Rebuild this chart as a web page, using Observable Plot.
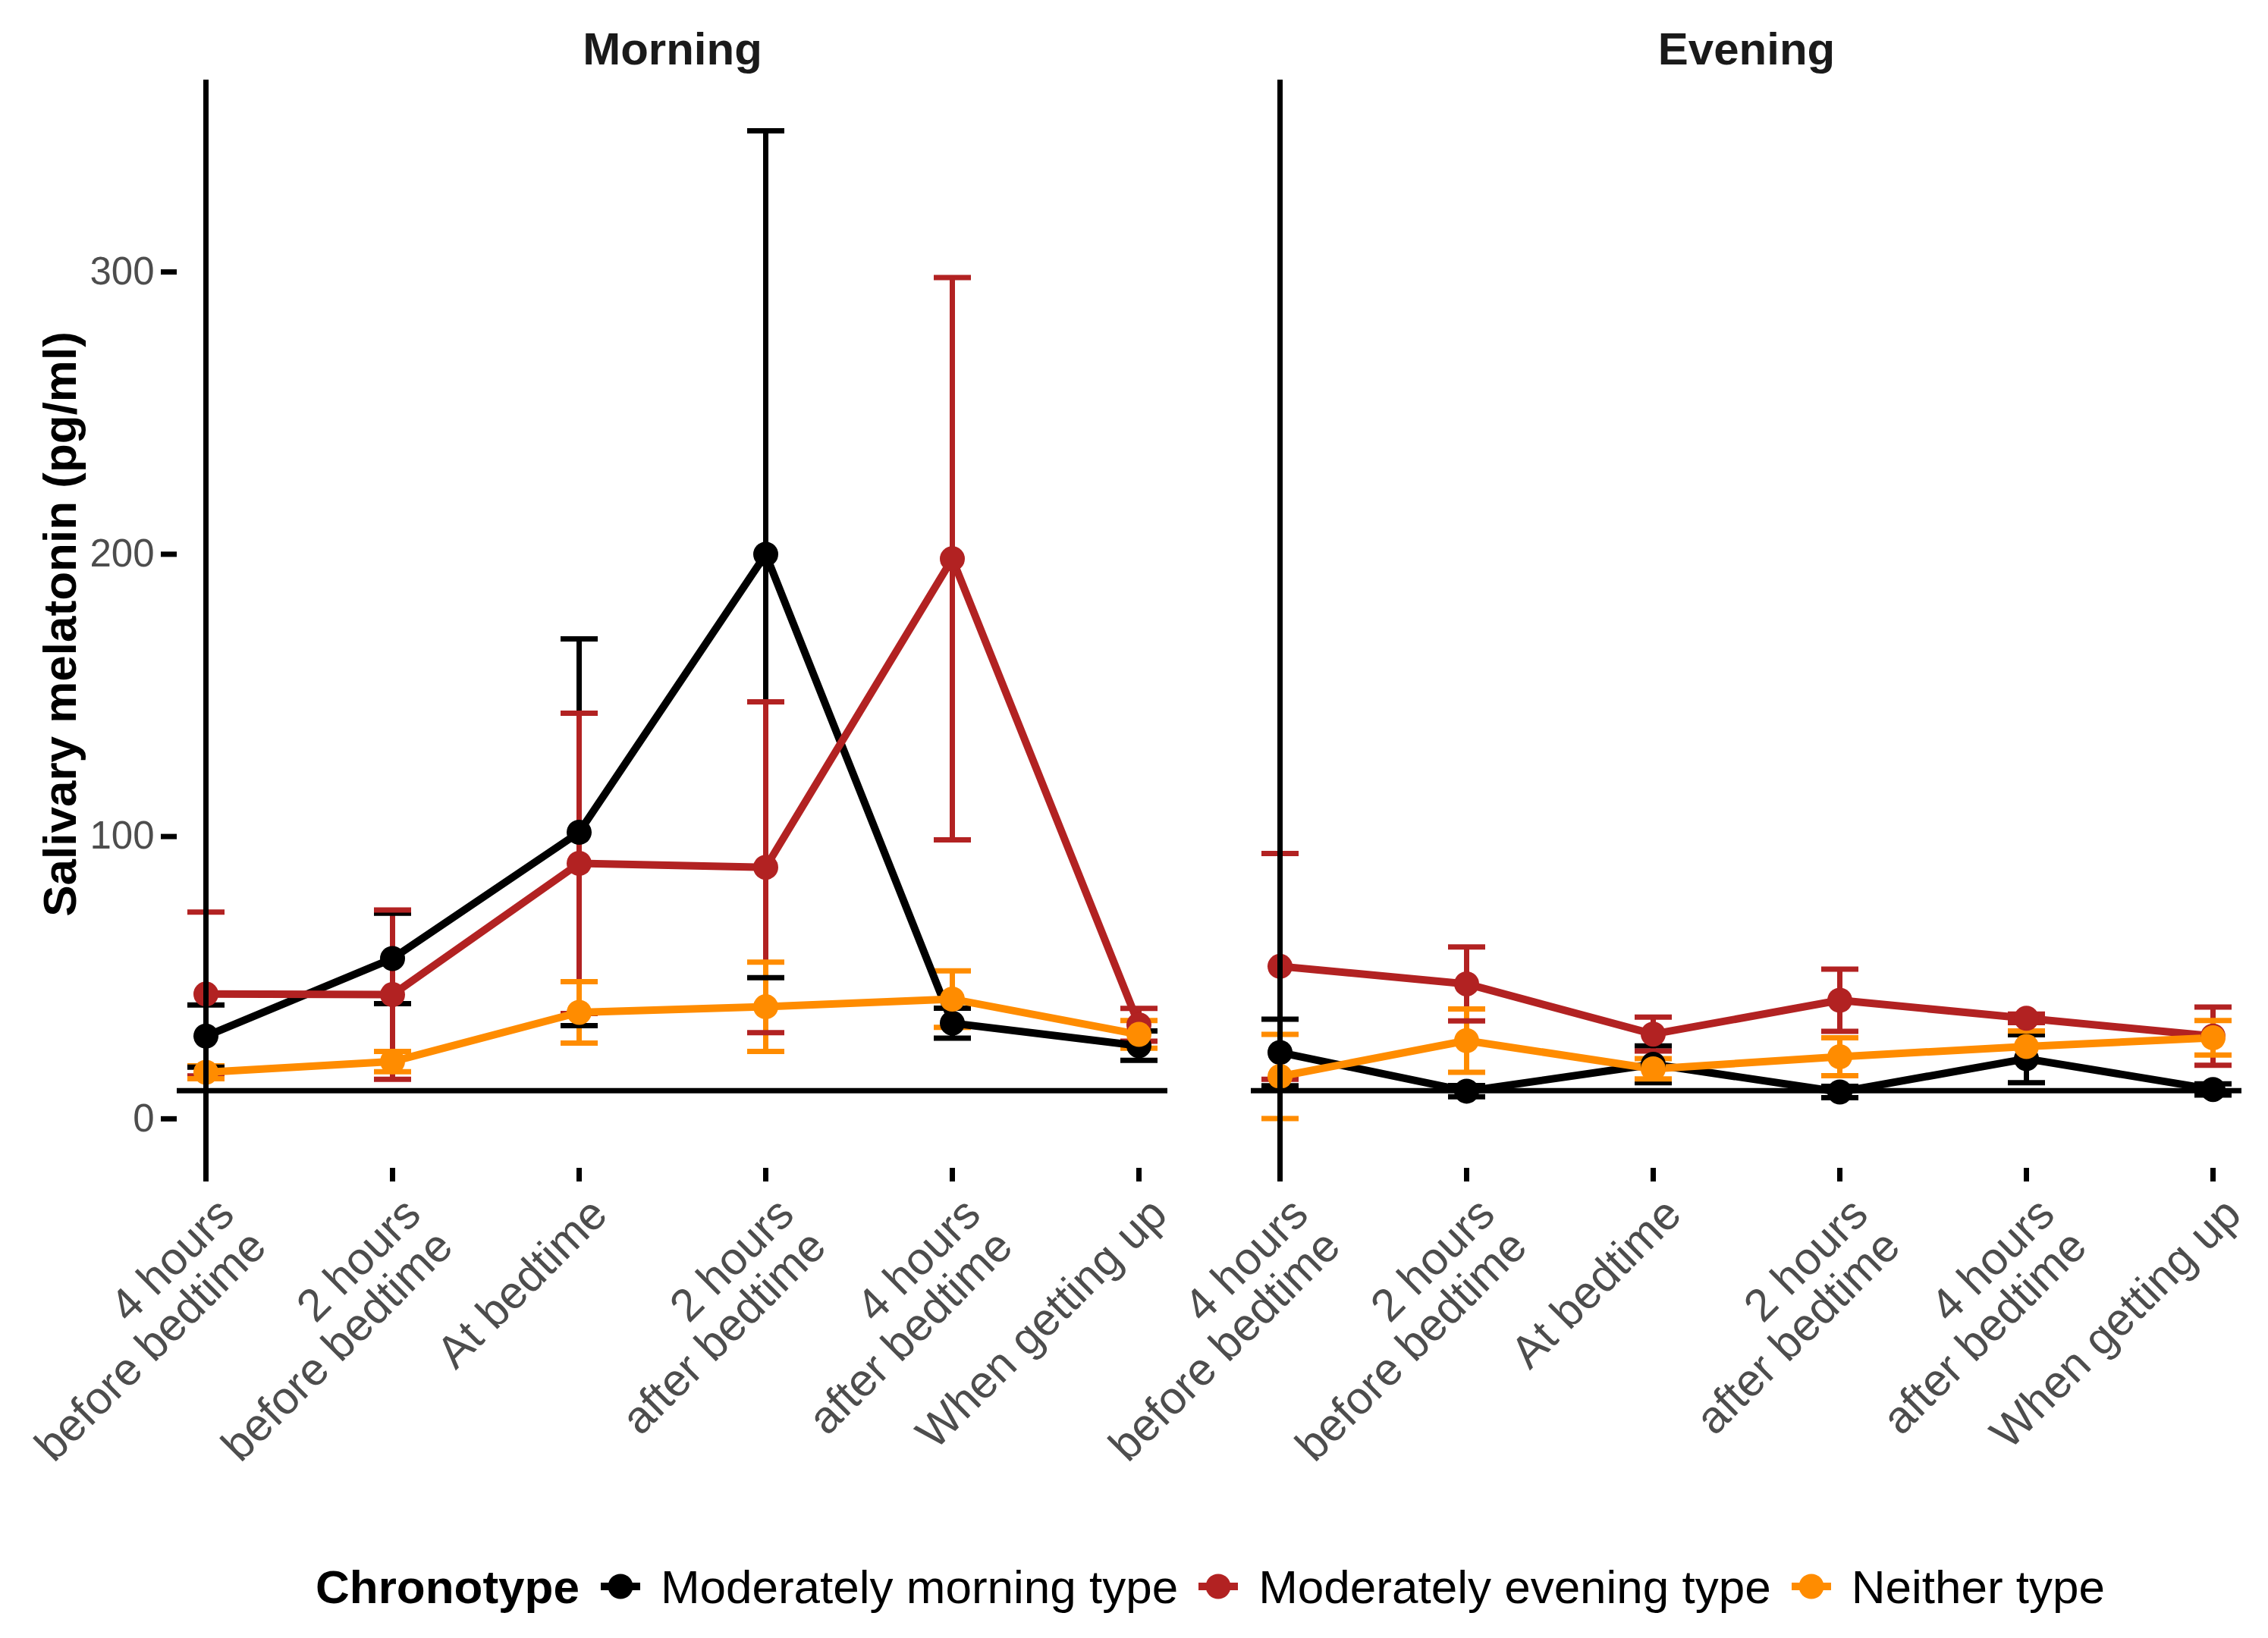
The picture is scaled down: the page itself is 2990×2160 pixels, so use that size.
<!DOCTYPE html>
<html>
<head>
<meta charset="utf-8">
<script src="https://cdn.jsdelivr.net/npm/d3@7"></script>
<script src="https://cdn.jsdelivr.net/npm/@observablehq/plot@0.6"></script>
<style>
  html, body { margin: 0; padding: 0; background: #fff; }
  body { width: 2990px; height: 2160px; position: relative; overflow: hidden;
         font-family: "Liberation Sans", Arial, sans-serif; }
  #chart { position: absolute; left: 0; top: 0; }
  #legend { position: absolute; left: 416px; top: 2058px; height: 68px;
            display: flex; align-items: center; font-size: 62px; color: #000; white-space: nowrap; }
  #legend .title { font-weight: bold; margin-right: 28px; }
  #legend svg { margin-right: 27px; flex: none; }
  #legend .lab { margin-right: 27px; }
</style>
</head>
<body>
<div id="chart"></div>
<div id="legend"></div>
<script>
// ---------- data ----------
const timepoints = [
  "4 hours\nbefore bedtime",
  "2 hours\nbefore bedtime",
  "At bedtime",
  "2 hours\nafter bedtime",
  "4 hours\nafter bedtime",
  "When getting up"
];
const sessions = ["Morning", "Evening"];
const chronotypes = ["Moderately morning type", "Moderately evening type", "Neither type"];
const chronotypeColors = ["#000000", "#B22222", "#FF8C00"];
const yTicks = [0, 100, 200, 300];
const referenceLevel = 10;
const yTitle = "Salivary melatonin (pg/ml)";
const legendTitle = "Chronotype";

// Morning session: mean and error (±)
const morningMorningType    = [29.3, 56.8, 101.5, 200.0, 33.9, 25.9];
const morningMorningTypeErr = [11.0, 16.0, 68.5, 150.0, 5.3, 5.2];
const morningEveningType    = [44.2, 44.0, 90.5, 89.1, 198.4, 33.3];
const morningEveningTypeErr = [29.0, 30.0, 53.2, 58.6, 99.6, 5.8];
const morningNeitherType    = [16.5, 20.3, 37.7, 39.7, 42.4, 29.9];
const morningNeitherTypeErr = [2.3, 3.6, 10.9, 15.8, 10.0, 4.9];

// Evening session: mean and error (±)
const eveningMorningType    = [23.5, 9.8, 19.3, 9.5, 21.3, 10.4];
const eveningMorningTypeErr = [11.8, 2.0, 6.5, 2.0, 8.5, 2.0];
const eveningEveningType    = [54.0, 47.8, 30.0, 42.0, 35.6, 29.3];
const eveningEveningTypeErr = [40.0, 13.1, 6.0, 11.0, 1.5, 10.3];
const eveningNeitherType    = [15.0, 27.7, 17.7, 22.0, 25.6, 28.7];
const eveningNeitherTypeErr = [14.9, 11.2, 3.6, 6.7, 5.5, 6.1];

// ---------- table ----------
const means = {
  Morning: [morningMorningType, morningEveningType, morningNeitherType],
  Evening: [eveningMorningType, eveningEveningType, eveningNeitherType]
};
const errs = {
  Morning: [morningMorningTypeErr, morningEveningTypeErr, morningNeitherTypeErr],
  Evening: [eveningMorningTypeErr, eveningEveningTypeErr, eveningNeitherTypeErr]
};
const rows = [];
sessions.forEach(s => chronotypes.forEach((g, gi) => timepoints.forEach((t, ti) => {
  const m = means[s][gi][ti], e = errs[s][gi][ti];
  rows.push({session: s, group: g, time: t, mean: m, lo: m - e, hi: m + e});
})));

// horizontal cap symbol for error bars (half-width = r)
const capSymbol = {
  draw(context, size) {
    const w = Math.sqrt(size / Math.PI);
    context.moveTo(-w, 0);
    context.lineTo(w, 0);
  }
};

const chart = Plot.plot({
  width: 2990,
  height: 1990,
  marginTop: 105,
  marginBottom: 450,
  marginLeft: 233,
  marginRight: 35,
  style: {fontFamily: '"Liberation Sans", Arial, sans-serif', background: "white", color: "black"},
  fx: {domain: sessions, paddingInner: 0.0777, paddingOuter: 0, axis: null},
  x: {type: "point", domain: timepoints, padding: 0.146},
  y: {domain: [-17.5, 368]},
  color: {domain: chronotypes, range: chronotypeColors},
  marks: [
    Plot.axisY({ticks: yTicks, tickSize: 21, tickPadding: 9, fontSize: 51,
                fill: "#4d4d4d", stroke: "black", strokeWidth: 7, label: null}),
    // x ticks only
    Plot.axisX({tickSize: 18, stroke: "black", strokeWidth: 7, fill: "none", label: null}),
    // x tick labels only
    Plot.axisX({tickSize: 18, stroke: "none", tickPadding: 16, dx: 10, tickRotate: -45, fontSize: 60,
                textAnchor: "end", lineAnchor: "top", lineHeight: 1.0,
                fill: "#4d4d4d", label: null}),
    // error bars
    Plot.ruleX(rows, {fx: "session", x: "time", y1: "lo", y2: "hi", stroke: "group", strokeWidth: 7}),
    Plot.dot(rows, {fx: "session", x: "time", y: "hi", r: 24.5, symbol: capSymbol,
                    fill: "none", stroke: "group", strokeWidth: 7}),
    Plot.dot(rows, {fx: "session", x: "time", y: "lo", r: 24.5, symbol: capSymbol,
                    fill: "none", stroke: "group", strokeWidth: 7}),
    // lines and points
    Plot.line(rows, {fx: "session", x: "time", y: "mean", stroke: "group", strokeWidth: 10}),
    Plot.dot(rows, {fx: "session", x: "time", y: "mean", fill: "group", r: 16.5}),
    // reference lines
    Plot.ruleY([referenceLevel], {stroke: "black", strokeWidth: 7}),
    Plot.ruleX([timepoints[0]], {stroke: "black", strokeWidth: 7}),
    // facet strip labels
    Plot.text(sessions, {fx: d => d, text: d => d, frameAnchor: "top", dy: -40,
                         lineAnchor: "middle", fontSize: 60, fontWeight: "bold", fill: "#1a1a1a"}),
    // y-axis title (left panel only)
    Plot.text([yTitle], {fx: [sessions[0]], text: d => d, frameAnchor: "left", dx: -153, rotate: -90,
                         textAnchor: "middle", lineAnchor: "middle", fontSize: 62, fontWeight: "bold", fill: "black"})
  ]
});
document.getElementById("chart").appendChild(chart);

// ---------- legend ----------
const legend = document.getElementById("legend");
const t = document.createElement("span");
t.className = "title";
t.textContent = legendTitle;
legend.appendChild(t);
const ns = "http://www.w3.org/2000/svg";
chronotypes.forEach((g, i) => {
  const svg = document.createElementNS(ns, "svg");
  svg.setAttribute("width", 52);
  svg.setAttribute("height", 52);
  const ln = document.createElementNS(ns, "line");
  ln.setAttribute("x1", 0); ln.setAttribute("x2", 52);
  ln.setAttribute("y1", 26); ln.setAttribute("y2", 26);
  ln.setAttribute("stroke", chronotypeColors[i]); ln.setAttribute("stroke-width", 10);
  const c = document.createElementNS(ns, "circle");
  c.setAttribute("cx", 26); c.setAttribute("cy", 26); c.setAttribute("r", 16.5);
  c.setAttribute("fill", chronotypeColors[i]);
  svg.appendChild(ln); svg.appendChild(c);
  legend.appendChild(svg);
  const lab = document.createElement("span");
  lab.className = "lab";
  lab.textContent = g;
  legend.appendChild(lab);
});
</script>
</body>
</html>
